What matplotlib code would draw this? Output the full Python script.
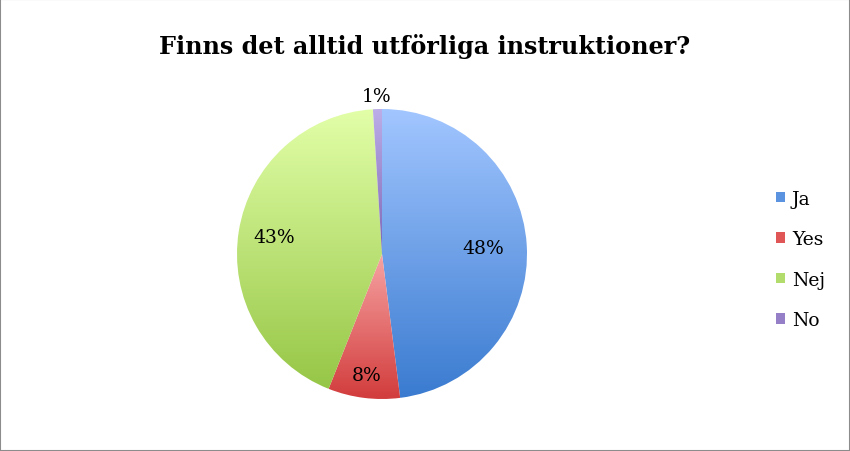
import numpy as np
import matplotlib
matplotlib.use("Agg")
from matplotlib import pyplot as plt
from matplotlib.patches import Patch, Rectangle
from matplotlib.colors import LinearSegmentedColormap

# data
labels = ["Ja", "Yes", "Nej", "No"]
values = [48, 8, 43, 1]
pct_labels = ["48%", "8%", "43%", "1%"]

# style
top_colors = ["#a2c6ff", "#f7a3a3", "#e2ffa8", "#bcaee8"]
bottom_colors = ["#3a7bd0", "#d23c3c", "#96c646", "#7d66b5"]
legend_colors = ["#5b93e0", "#e05656", "#b2dc6c", "#9580c8"]
label_dist = [0.70, 0.84, 0.75, 1.09]

plt.rcParams['font.family'] = ['DejaVu Serif']

fig = plt.figure(figsize=(8.5, 4.52), dpi=100)
fig.patches.append(Rectangle((0, 0), 1, 1, transform=fig.transFigure,
                             fill=False, edgecolor="#8c8c8c", linewidth=1.5))

ax = fig.add_axes([237 / 850, 52 / 452, 290 / 850, 290 / 452])
wedges, _ = ax.pie(values, startangle=90, counterclock=False, radius=1,
                   colors=["none"] * 4, wedgeprops=dict(linewidth=0))
ax.set_aspect("equal")
ax.axis("off")

# gradient fill per slice
for w, c1, c2 in zip(wedges, top_colors, bottom_colors):
    cmap = LinearSegmentedColormap.from_list("g", [c2, c1])
    verts = w.get_path().vertices
    x0, x1 = verts[:, 0].min(), verts[:, 0].max()
    y0, y1 = verts[:, 1].min(), verts[:, 1].max()
    grad = np.linspace(0, 1, 256).reshape(-1, 1)
    im = ax.imshow(grad, cmap=cmap, origin="lower", aspect="auto",
                   extent=[x0, x1, y0, y1], zorder=1)
    im.set_clip_path(w)

ax.set_xlim(-1, 1)
ax.set_ylim(-1, 1)

# percent labels
for w, txt, d in zip(wedges, pct_labels, label_dist):
    ang = np.deg2rad((w.theta1 + w.theta2) / 2)
    ax.text(d * np.cos(ang), d * np.sin(ang), txt, ha="center", va="center",
            fontsize=13.5, color="#000000", zorder=3, clip_on=False)

fig.text(0.5, 0.898, "Finns det alltid utförliga instruktioner?", ha="center",
         va="center", fontsize=17.2, fontweight="bold")

handles = [Patch(facecolor=c, edgecolor="none") for c in legend_colors]
fig.legend(handles, labels, loc="center left", bbox_to_anchor=(759 / 850, 0.424),
           frameon=False, fontsize=13.5, handlelength=0.5, handleheight=0.5,
           handletextpad=0.35, labelspacing=1.2)

fig.savefig("out.png", dpi=100)
